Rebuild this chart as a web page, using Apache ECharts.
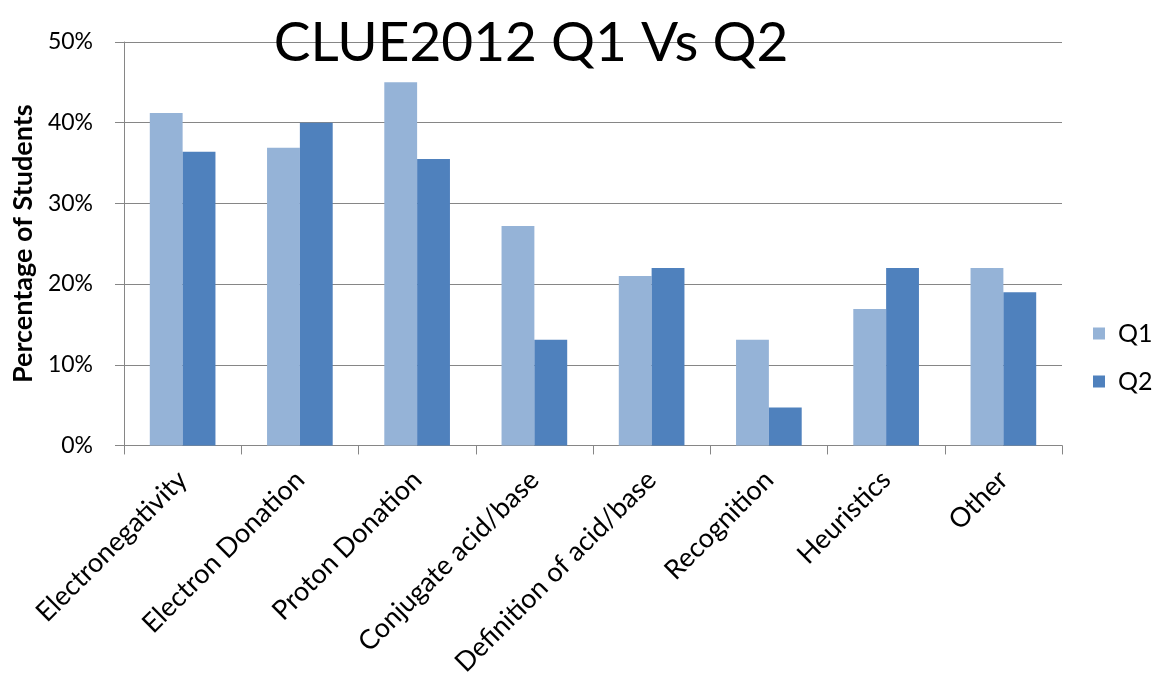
<!DOCTYPE html>
<html>
<head>
<meta charset="utf-8">
<script src="https://cdn.jsdelivr.net/npm/echarts@6/dist/echarts.min.js"></script>
<style>
  html, body { margin: 0; padding: 0; background: #ffffff; }
  #chart { width: 1153px; height: 679px; }
</style>
</head>
<body>
<div id="chart"></div>
<script>
// Reasoning categories and the share of students (percent) for each quiz
const categories = [
  'Electronegativity', 'Electron Donation', 'Proton Donation', 'Conjugate acid/base',
  'Definition of acid/base', 'Recognition', 'Heuristics', 'Other'
];
const q1Values = [41.2, 36.9, 45.0, 27.2, 21.0, 13.1, 16.9, 22.0];
const q2Values = [36.4, 40.0, 35.5, 13.1, 22.0, 4.7, 22.0, 19.0];
const seriesNames = ['Q1', 'Q2'];
const titleText = 'CLUE2012 Q1 Vs Q2';
const yAxisName = 'Percentage of Students';

const font = 'Lato, "Open Sans", sans-serif';
const gridGrey = '#868686';

const chart = echarts.init(document.getElementById('chart'), null, { renderer: 'canvas' });
chart.setOption({
  animation: false,
  backgroundColor: '#ffffff',
  title: {
    text: titleText,
    left: 526,
    top: 11,
    textAlign: 'center',
    textStyle: { fontFamily: font, fontWeight: 'normal', fontSize: 55, color: '#000000' }
  },
  legend: {
    data: seriesNames,
    orient: 'vertical',
    left: 1088,
    top: 316,
    itemWidth: 12,
    itemHeight: 12,
    itemGap: 23,
    icon: 'rect',
    textStyle: { fontFamily: font, fontSize: 25, color: '#000000', padding: [0, 0, 0, 8] }
  },
  grid: { left: 124, right: 91, top: 42, bottom: 232, containLabel: false },
  xAxis: {
    type: 'category',
    data: categories,
    axisLine: { show: true, lineStyle: { color: gridGrey, width: 1 } },
    axisTick: { show: true, length: 9, lineStyle: { color: gridGrey } },
    axisLabel: {
      rotate: 45,
      interval: 0,
      margin: 30,
      fontFamily: font,
      fontSize: 27,
      color: '#000000'
    }
  },
  yAxis: {
    type: 'value',
    min: 0,
    max: 50,
    interval: 10,
    name: yAxisName,
    nameLocation: 'middle',
    nameGap: 85,
    nameTextStyle: { fontFamily: font, fontSize: 27, fontWeight: 'bold', color: '#000000' },
    axisLine: { show: true, lineStyle: { color: gridGrey, width: 1 } },
    axisTick: { show: true, length: 9, lineStyle: { color: gridGrey } },
    axisLabel: {
      formatter: '{value}%',
      margin: 31,
      fontFamily: font,
      fontSize: 23,
      color: '#000000'
    },
    splitLine: { show: true, lineStyle: { color: gridGrey, width: 1 } }
  },
  series: [
    {
      name: seriesNames[0],
      type: 'bar',
      data: q1Values,
      barGap: '0%',
      barCategoryGap: '44%',
      itemStyle: { color: '#95B3D7' }
    },
    {
      name: seriesNames[1],
      type: 'bar',
      data: q2Values,
      itemStyle: { color: '#4F81BD' }
    }
  ]
});
</script>
</body>
</html>
